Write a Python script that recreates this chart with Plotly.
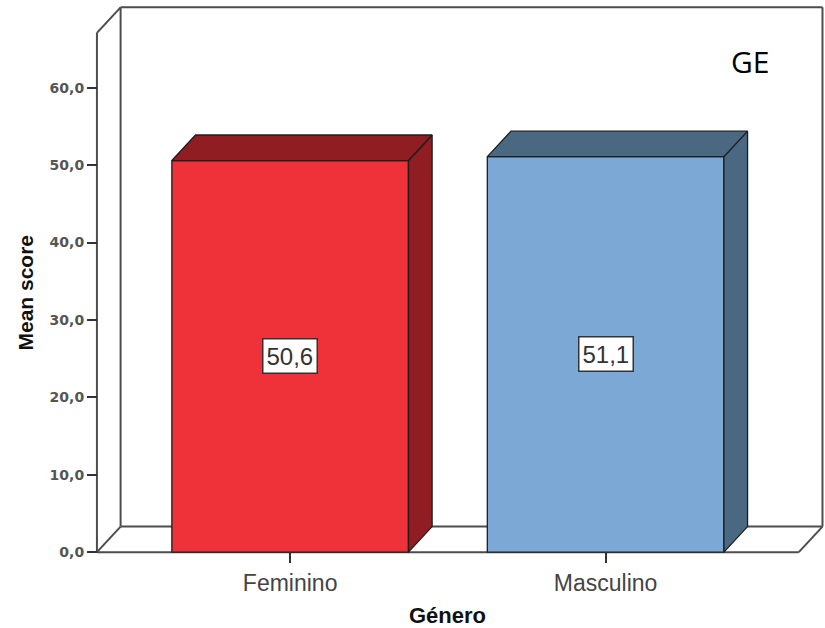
import plotly.graph_objects as go

# Mean score by gender
categories = ["Feminino", "Masculino"]
mean_scores = [50.6, 51.1]
front_colors = ["#EF323A", "#7BA8D5"]
shade_colors = ["#8F1D21", "#4B6883"]
y_tick_values = [0, 10, 20, 30, 40, 50, 60]

# 3D box geometry (data units)
BAR_WIDTH = 0.75
X_LO, X_HI = -0.6125, 1.6125      # front edges of the floor
Y_TOP = 67.1                      # front top of the left wall
DX, DY = 0.075, 3.3               # depth offset of the box and bars

x_range = [X_LO - 0.0125, X_HI + DX + 0.008]
y_range = [-0.5, Y_TOP + DY + 0.3]

WALL = dict(color="#4d4d4d", width=2)
EDGE = dict(color="#1e1e1e", width=1.3)
SANS = "Liberation Sans, Arial, sans-serif"

fig = go.Figure()

# front faces
fig.add_trace(go.Bar(
    x=list(range(len(categories))), y=mean_scores, width=BAR_WIDTH,
    marker=dict(color=front_colors, line=EDGE), hoverinfo="skip",
    showlegend=False,
))

# side and top faces of each bar
h = BAR_WIDTH / 2
for i, (v, shade) in enumerate(zip(mean_scores, shade_colors)):
    side_x = [i + h, i + h + DX, i + h + DX, i + h, i + h]
    side_y = [0, DY, v + DY, v, 0]
    top_x = [i - h, i - h + DX, i + h + DX, i + h, i - h]
    top_y = [v, v + DY, v + DY, v, v]
    for px, py in ((side_x, side_y), (top_x, top_y)):
        fig.add_trace(go.Scatter(
            x=px, y=py, mode="lines", fill="toself", fillcolor=shade,
            line=EDGE, hoverinfo="skip", showlegend=False,
        ))

# box walls and floor
wall_segments = [
    ((X_LO, 0), (X_LO, Y_TOP)),
    ((X_LO, Y_TOP), (X_LO + DX, Y_TOP + DY)),
    ((X_LO + DX, DY), (X_LO + DX, Y_TOP + DY)),
    ((X_LO + DX, Y_TOP + DY), (X_HI + DX, Y_TOP + DY)),
    ((X_HI + DX, DY), (X_HI + DX, Y_TOP + DY)),
    ((X_LO + DX, DY), (X_HI + DX, DY)),
    ((X_LO, 0), (X_LO + DX, DY)),
    ((X_LO, 0), (X_HI, 0)),
    ((X_HI, 0), (X_HI + DX, DY)),
]
for (x0, y0), (x1, y1) in wall_segments:
    fig.add_shape(type="line", x0=x0, y0=y0, x1=x1, y1=y1,
                  xref="x", yref="y", line=WALL, layer="below")

# value labels
for i, v in enumerate(mean_scores):
    fig.add_annotation(
        x=i, y=v / 2, xref="x", yref="y", showarrow=False,
        text=f"{v:.1f}".replace(".", ","),
        font=dict(family=SANS, size=24, color="#333333"),
        bgcolor="white", bordercolor="#333333", borderwidth=1.5, borderpad=3,
    )

# axis titles and panel label
fig.add_annotation(
    x=0, y=Y_TOP / 2, xref="paper", yref="y", xshift=-68, showarrow=False,
    xanchor="center", yanchor="middle",
    text="<b>Mean score</b>", textangle=-90,
    font=dict(family=SANS, size=21, color="#111111"),
)
fig.add_annotation(
    x=(len(categories) - 1) / 2, y=0, xref="x", yref="paper", yshift=-59,
    xanchor="center", yanchor="middle", showarrow=False, text="<b>Género</b>",
    font=dict(family=SANS, size=22, color="#111111"),
)
fig.add_annotation(
    x=0.8975, y=0.898, xref="paper", yref="paper", showarrow=False,
    xanchor="center", yanchor="middle",
    text="GE", font=dict(family="Open Sans, sans-serif", size=30, color="#000000"),
)

fig.update_layout(
    width=825, height=628,
    margin=dict(l=93, r=0, t=5, b=72),
    paper_bgcolor="white", plot_bgcolor="white",
    separators=",.",
    hovermode=False, showlegend=False,
    xaxis=dict(
        range=x_range, tickvals=list(range(len(categories))), ticktext=categories,
        ticks="outside", ticklen=10, tickwidth=1.5, tickcolor="#333333",
        showgrid=False, zeroline=False, showline=False,
        anchor="free", position=(0 - y_range[0]) / (y_range[1] - y_range[0]),
        tickfont=dict(family=SANS, size=23, color="#444444"),
    ),
    yaxis=dict(
        range=y_range, tickvals=y_tick_values, tickformat=".1f",
        ticks="outside", ticklen=10, tickwidth=1.5, tickcolor="#333333",
        showgrid=False, zeroline=False, showline=False,
        anchor="free", position=(X_LO - x_range[0]) / (x_range[1] - x_range[0]),
        tickfont=dict(family="DejaVu Sans, sans-serif", size=14, color="#555555",
                      weight="bold"),
    ),
)

fig.write_html("out.html")
